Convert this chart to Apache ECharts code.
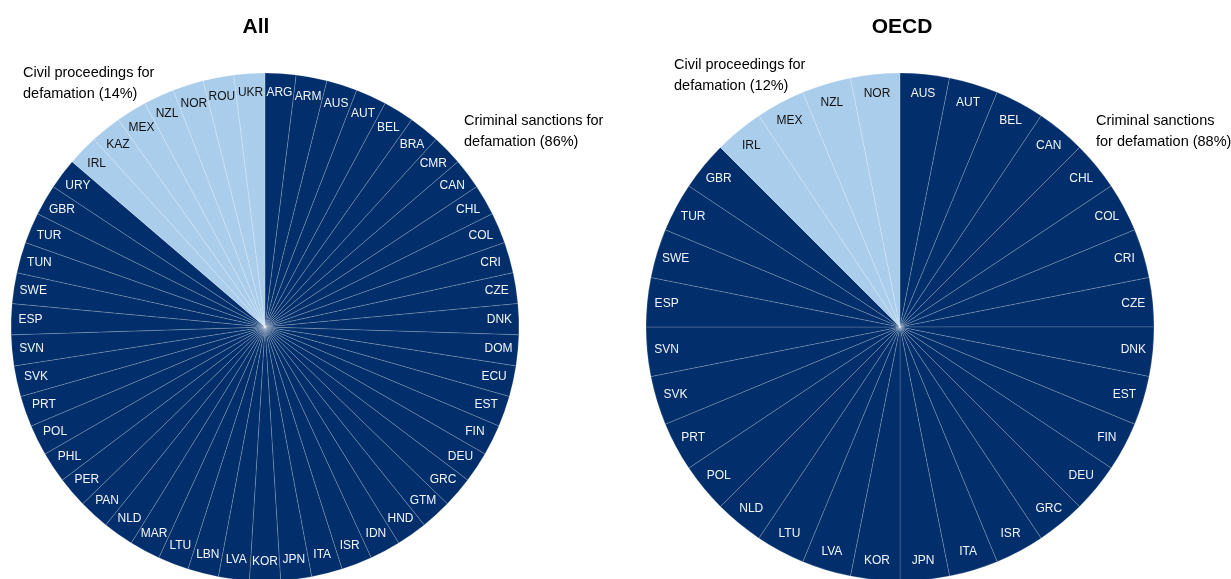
<!DOCTYPE html>
<html>
<head>
<meta charset="utf-8">
<title>Defamation sanctions</title>
<script src="https://cdn.jsdelivr.net/npm/echarts@6/dist/echarts.min.js"></script>
<style>
  html, body { margin: 0; padding: 0; background: #fff; }
  #chart { width: 1231px; height: 579px; }
</style>
</head>
<body>
<div id="chart"></div>
<script>
// Countries, listed clockwise from 12 o'clock
const allCriminal = ['ARG','ARM','AUS','AUT','BEL','BRA','CMR','CAN','CHL','COL','CRI','CZE','DNK','DOM','ECU','EST','FIN','DEU','GRC','GTM','HND','IDN','ISR','ITA','JPN','KOR','LVA','LBN','LTU','MAR','NLD','PAN','PER','PHL','POL','PRT','SVK','SVN','ESP','SWE','TUN','TUR','GBR','URY'];
const allCivil = ['IRL','KAZ','MEX','NZL','NOR','ROU','UKR'];
const oecdCriminal = ['AUS','AUT','BEL','CAN','CHL','COL','CRI','CZE','DNK','EST','FIN','DEU','GRC','ISR','ITA','JPN','KOR','LVA','LTU','NLD','POL','PRT','SVK','SVN','ESP','SWE','TUR','GBR'];
const oecdCivil = ['IRL','MEX','NZL','NOR'];

const panelTitles = ['All', 'OECD'];
const DARK = '#022f6b';
const LIGHT = '#abcdec';
const FONT = '"Liberation Sans Narrow", "Arial Narrow", "Liberation Sans", Arial, sans-serif';

function share(a, b) { return Math.round(100 * a.length / (a.length + b.length)); }

// One slice per country, each counting once
function slices(criminal, civil) {
  return criminal.map(c => ({ name: c, value: 1, group: 'criminal' }))
    .concat(civil.map(c => ({ name: c, value: 1, group: 'civil' })));
}

function pieFill(data, center) {
  return {
    type: 'pie', center: center, radius: [0, 254],
    startAngle: 90, clockwise: true, silent: true,
    label: { show: false }, labelLine: { show: false },
    data: data.map(d => ({
      name: d.name, value: d.value,
      itemStyle: { color: d.group === 'criminal' ? DARK : LIGHT }
    })),
    itemStyle: { borderColor: 'rgba(255,255,255,0.35)', borderWidth: 0.5 }
  };
}

// Transparent ring whose inside labels sit near the rim
function pieLabels(data, center) {
  return {
    type: 'pie', center: center, radius: [209, 254],
    startAngle: 90, clockwise: true, silent: true,
    labelLine: { show: false },
    data: data.map(d => ({
      name: d.name, value: d.value,
      itemStyle: { color: 'rgba(0,0,0,0)', borderWidth: 0 },
      label: { color: d.group === 'criminal' ? '#f2f5f9' : '#111111' }
    })),
    label: {
      show: true, position: 'inside', formatter: '{b}',
      fontFamily: FONT, fontSize: 12
    }
  };
}

const dataAll = slices(allCriminal, allCivil);
const dataOecd = slices(oecdCriminal, oecdCivil);

const noteStyle = { fontFamily: FONT, fontSize: 14.5, fill: '#000', lineHeight: 21 };

const option = {
  animation: false,
  backgroundColor: '#ffffff',
  title: [
    { text: panelTitles[0], left: 251, top: 12, textAlign: 'center',
      textStyle: { fontFamily: FONT, fontWeight: 'bold', fontSize: 21, color: '#000' } },
    { text: panelTitles[1], left: 897, top: 12, textAlign: 'center',
      textStyle: { fontFamily: FONT, fontWeight: 'bold', fontSize: 21, color: '#000' } }
  ],
  series: [
    pieFill(dataAll, [265, 327]),
    pieLabels(dataAll, [265, 327]),
    pieFill(dataOecd, [900, 327]),
    pieLabels(dataOecd, [900, 327])
  ],
  graphic: [
    { type: 'text', left: 23, top: 62, style: Object.assign({
        text: 'Civil proceedings for\ndefamation (' + share(allCivil, allCriminal) + '%)' }, noteStyle) },
    { type: 'text', left: 464, top: 110, style: Object.assign({
        text: 'Criminal sanctions for\ndefamation (' + share(allCriminal, allCivil) + '%)' }, noteStyle) },
    { type: 'text', left: 674, top: 54, style: Object.assign({
        text: 'Civil proceedings for\ndefamation (' + Math.floor(100 * oecdCivil.length / (oecdCivil.length + oecdCriminal.length)) + '%)' }, noteStyle) },
    { type: 'text', left: 1096, top: 110, style: Object.assign({
        text: 'Criminal sanctions\nfor defamation (' + share(oecdCriminal, oecdCivil) + '%)' }, noteStyle) }
  ]
};

const chart = echarts.init(document.getElementById('chart'), null, { renderer: 'canvas' });
chart.setOption(option);
</script>
</body>
</html>
